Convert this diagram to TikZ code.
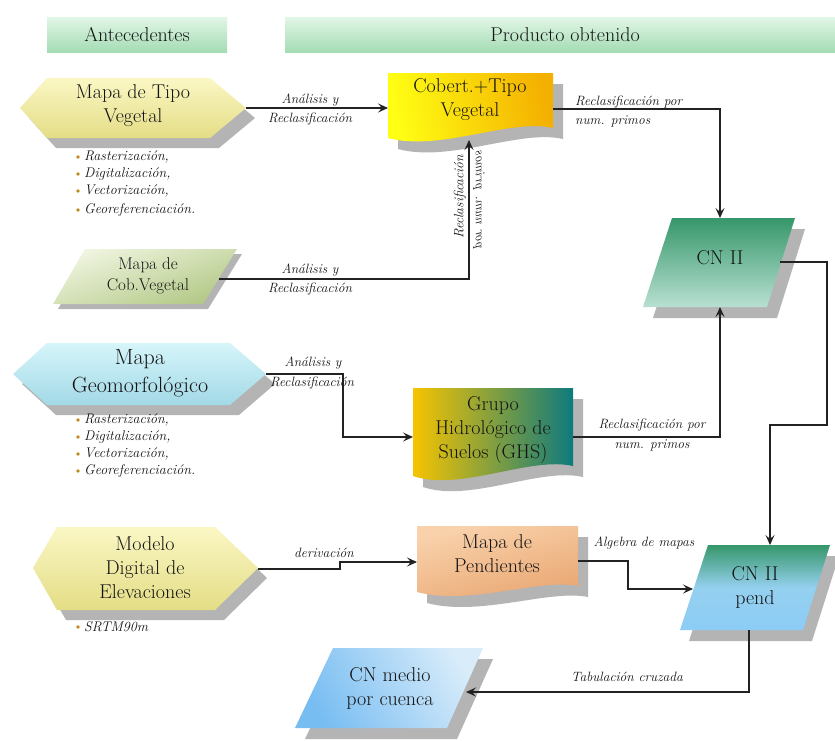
\documentclass[tikz,border=0pt]{standalone}
\usetikzlibrary{arrows.meta,calc}
\definecolor{hdrT}{HTML}{E2F6E6}
\definecolor{hdrB}{HTML}{A4DCB4}
\definecolor{shd}{HTML}{B4B4B4}
\definecolor{yelT}{HTML}{FAF7C4}
\definecolor{yelB}{HTML}{E4DD86}
\definecolor{cyaT}{HTML}{D6F5FA}
\definecolor{cyaB}{HTML}{A2D9E6}
\definecolor{cobL}{HTML}{FFFF14}
\definecolor{cobR}{HTML}{F4B000}
\definecolor{olvT}{HTML}{F0F5E0}
\definecolor{olvB}{HTML}{B2C886}
\definecolor{grnT}{HTML}{36976A}
\definecolor{grnB}{HTML}{B8E0D2}
\definecolor{ghsL}{HTML}{F6C400}
\definecolor{ghsR}{HTML}{0E7A7E}
\definecolor{penT}{HTML}{F9D2AC}
\definecolor{penB}{HTML}{E8A46E}
\definecolor{bluB}{HTML}{8CCCF6}
\definecolor{cnmL}{HTML}{78BDF2}
\definecolor{cnmR}{HTML}{D8ECFA}
\definecolor{bul}{HTML}{C08A18}
\definecolor{txt}{HTML}{141414}
\definecolor{ln}{HTML}{222222}
\begin{document}
\begin{tikzpicture}[x=1pt,y=-1pt,
  hdrtext/.style={font=\fontsize{20}{23}\selectfont,text=txt},
  boxtext/.style={font=\fontsize{20}{24}\selectfont,text=txt,align=center},
  lbl/.style={font=\itshape\fontsize{13.5}{15}\selectfont,text=txt,inner sep=0pt},
  bultext/.style={font=\itshape\fontsize{14}{16}\selectfont,text=txt,anchor=west,inner sep=0pt},
  shadowfill/.style={fill=shd},
  conn/.style={draw=ln,line width=1.1pt,-{Stealth[length=10pt,width=9pt,inset=4pt]}},
  plain/.style={draw=ln,line width=1.1pt}]
\useasboundingbox (0,0) rectangle (835,740);
\fill[white] (0,0) rectangle (835,740);

% headers
\shade[top color=hdrT,bottom color=hdrB] (47,17) rectangle (227,52);
\node[hdrtext] (hA) at (137,35) {Antecedentes};
\shade[top color=hdrT,bottom color=hdrB] (285,17) rectangle (835,52);
\node[hdrtext] (hP) at (565,35) {Producto obtenido};

% ---- Mapa de Tipo Vegetal (hexagon)
\fill[shadowfill,shift={(9,10)}] (20,108)--(47,78)--(210,78)--(246,108)--(210,138)--(47,138)--cycle;
\shade[top color=yelT,bottom color=yelB] (20,108)--(47,78)--(210,78)--(246,108)--(210,138)--(47,138)--cycle;
\node[boxtext] (tv) at (133,106) {Mapa de Tipo\\Vegetal};
\coordinate (tvR) at (246,108);

% bullets 1
\foreach \yy/\tt [count=\i] in {157/{Rasterización,},174/{Digitalización,},191/{Vectorización,},210/{Georeferenciación.}}{
  \fill[bul] (78,\yy) circle (1.8);
  \node[bultext] (ba\i) at (84,\yy) {\tt};
}

% ---- Cobert.+Tipo Vegetal (document)
\fill[shadowfill,shift={(10,11)}] (388,73)--(553,73)--(553,128) .. controls (510,118) and (440,152) .. (388,138)--cycle;
\shade[left color=cobL,right color=cobR,shading angle=100] (388,73)--(553,73)--(553,128) .. controls (510,118) and (440,152) .. (388,138)--cycle;
\node[boxtext] (cv) at (470,100) {Cobert.+Tipo\\Vegetal};
\coordinate (cvL) at (388,108);
\coordinate (cvR) at (553,109);
\coordinate (cvB) at (469,140);

% ---- Mapa de Cob.Vegetal (parallelogram)
\fill[shadowfill,shift={(5,5)}] (85,249)--(237,249)--(203,304)--(53,304)--cycle;
\shade[top color=olvT,bottom color=olvB,shading angle=20] (85,249)--(237,249)--(203,304)--(53,304)--cycle;
\node[boxtext,font=\fontsize{17}{21}\selectfont] (cob) at (148,276) {Mapa de\\Cob.Vegetal};
\coordinate (cobR) at (219,279);

% ---- CN II (parallelogram)
\fill[shadowfill,shift={(10,11)}] (672,218)--(795,218)--(767,307)--(643,307)--cycle;
\shade[top color=grnT,bottom color=grnB] (672,218)--(795,218)--(767,307)--(643,307)--cycle;
\node[boxtext] (cn2) at (720,258) {CN II};
\coordinate (cn2T) at (720,218);
\coordinate (cn2B) at (720,307);
\coordinate (cn2R) at (780,262);

% ---- Mapa Geomorfologico (hexagon)
\fill[shadowfill,shift={(9,10)}] (13,374)--(47,343)--(230,343)--(266,374)--(230,405)--(47,405)--cycle;
\shade[top color=cyaT,bottom color=cyaB] (13,374)--(47,343)--(230,343)--(266,374)--(230,405)--(47,405)--cycle;
\node[boxtext,font=\fontsize{22}{28}\selectfont] (geo) at (140,373) {Mapa\\Geomorfológico};
\coordinate (geoR) at (266,374);

% bullets 2
\foreach \yy/\tt [count=\i] in {420/{Rasterización,},437/{Digitalización,},454/{Vectorización,},471/{Georeferenciación.}}{
  \fill[bul] (78,\yy) circle (1.8);
  \node[bultext] (bb\i) at (84,\yy) {\tt};
}

% ---- GHS (document)
\fill[shadowfill,shift={(10,11)}] (413,388)--(573,388)--(573,466) .. controls (530,456) and (460,492) .. (413,476)--cycle;
\shade[left color=ghsL,right color=ghsR] (413,388)--(573,388)--(573,466) .. controls (530,456) and (460,492) .. (413,476)--cycle;
\node[boxtext] (ghs) at (493,430) {Grupo\\Hidrológico de\\Suelos (GHS)};
\coordinate (ghsL) at (413,437);
\coordinate (ghsR) at (573,437);

% ---- Modelo Digital de Elevaciones (hexagon)
\fill[shadowfill,shift={(9,10)}] (33,568)--(57,527)--(215,527)--(258,568)--(215,610)--(57,610)--cycle;
\shade[top color=yelT,bottom color=yelB] (33,568)--(57,527)--(215,527)--(258,568)--(215,610)--(57,610)--cycle;
\node[boxtext] (mde) at (145,568) {Modelo\\Digital de\\Elevaciones};
\coordinate (mdeR) at (258,569);
\fill[bul] (78,627) circle (1.8);
\node[bultext] (bc1) at (84,627) {SRTM90m};

% ---- Mapa de Pendientes (document)
\fill[shadowfill,shift={(10,11)}] (417,526)--(578,526)--(578,586) .. controls (540,578) and (470,606) .. (417,592)--cycle;
\shade[top color=penT,bottom color=penB,shading angle=15] (417,526)--(578,526)--(578,586) .. controls (540,578) and (470,606) .. (417,592)--cycle;
\node[boxtext] (pen) at (497,554) {Mapa de\\Pendientes};
\coordinate (penL) at (417,562);
\coordinate (penR) at (578,561);

% ---- CN II pend (parallelogram)
\fill[shadowfill,shift={(9,11)}] (708,545)--(830,545)--(803,630)--(680,630)--cycle;
\shade[top color=grnT,bottom color=bluB,middle color=bluB!80!grnB] (708,545)--(830,545)--(803,630)--(680,630)--cycle;
\node[boxtext] (cnp) at (755,587) {CN II\\pend};
\coordinate (cnpT) at (770,545);
\coordinate (cnpL) at (693,589);
\coordinate (cnpB) at (749,630);

% ---- CN medio por cuenca (parallelogram)
\fill[shadowfill,shift={(10,11)}] (333,648)--(483,648)--(447,728)--(295,728)--cycle;
\shade[left color=cnmL,right color=cnmR,shading angle=120] (333,648)--(483,648)--(447,728)--(295,728)--cycle;
\node[boxtext] (cnm) at (390,688) {CN medio\\por cuenca};
\coordinate (cnmR) at (466,692);

% ---- connectors
\draw[conn] (tvR) -- (cvL);
\node[lbl] (l1a) at (310,100) {Análisis y};
\node[lbl] (l1b) at (310,119) {Reclasificación};

\draw[conn] (cobR) -| (cvB);
\node[lbl] (l2a) at (310,270) {Análisis y};
\node[lbl] (l2b) at (310,289) {Reclasificación};
\node[lbl,rotate=90] (l2c) at (460,197) {Reclasificación};
\node[lbl,rotate=90] (l2d) at (479,200) {\scalebox{1}[-1]{por num. primos}};

\draw[conn] (cvR) -| (cn2T);
\node[lbl,anchor=west] (l3a) at (575,102) {Reclasificación por};
\node[lbl,anchor=west] (l3b) at (575,121) {num. primos};

\draw[conn] (geoR) -- (343,374) |- (ghsL);
\node[lbl] (l4a) at (313,363) {Análisis y};
\node[lbl] (l4b) at (312,383) {Reclasificación};

\draw[conn] (ghsR) -| (cn2B);
\node[lbl] (l5a) at (652,425) {Reclasificación por};
\node[lbl] (l5b) at (652,445) {num. primos};

\draw[conn] (cn2R) -- (827,262) -- (827,425) -- (770,425) -- (cnpT);

\draw[conn] (mdeR) -- (340,569) -- (340,562) -- (penL);
\node[lbl] (l6) at (324,553) {derivación};

\draw[conn] (penR) -- (628,561) |- (cnpL);
\node[lbl] (l7) at (644,543) {Algebra de mapas};

\draw[conn] (cnpB) |- (cnmR);
\node[lbl] (l8) at (627,677) {Tabulación cruzada};
\end{tikzpicture}
\end{document}
